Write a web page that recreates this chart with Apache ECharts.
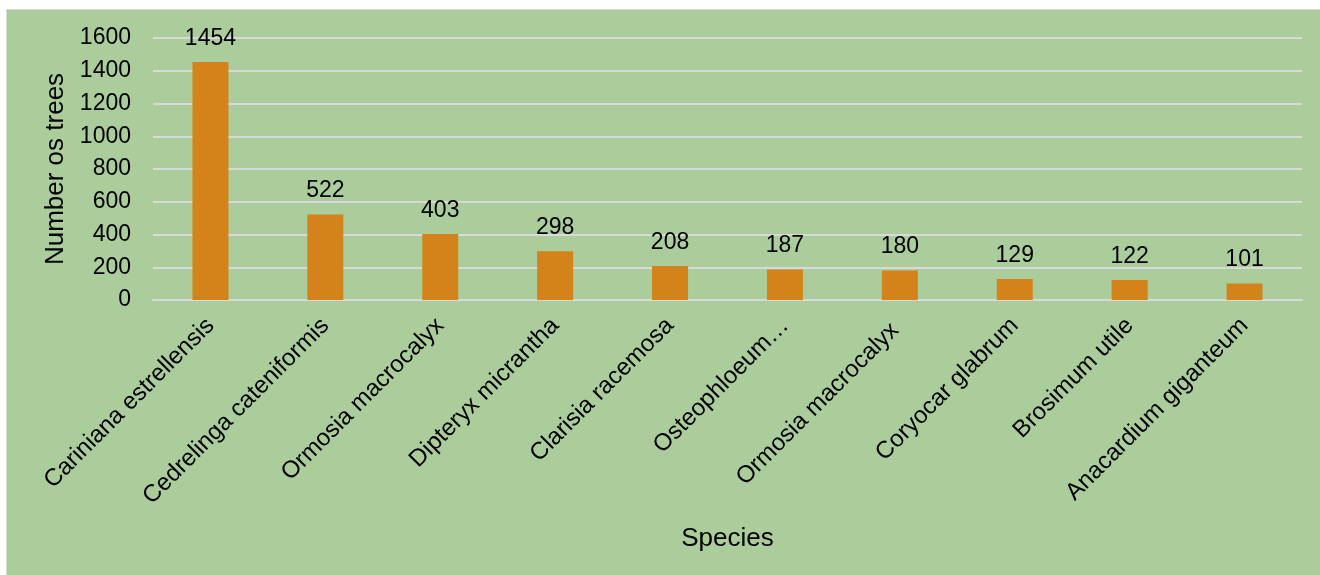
<!DOCTYPE html>
<html><head><meta charset="utf-8">
<script src="https://cdn.jsdelivr.net/npm/echarts@6/dist/echarts.min.js"></script>
<style>html,body{margin:0;padding:0;background:#fff;}#c{width:1320px;height:575px;}</style>
</head><body><div id="c"></div>
<script>
const categories = ["Cariniana estrellensis","Cedrelinga cateniformis","Ormosia macrocalyx","Dipteryx micrantha","Clarisia racemosa","Osteophloeum…","Ormosia macrocalyx ","Coryocar glabrum","Brosimum utile","Anacardium giganteum"];
const values = [1454, 522, 403, 298, 208, 187, 180, 129, 122, 101];
const yTicks = {min: 0, max: 1600, interval: 200};
const yName = "Number os trees";
const xName = "Species";

const font = "'Liberation Sans', Arial, sans-serif";
const chart = echarts.init(document.getElementById('c'), null, {renderer: 'canvas'});
chart.setOption({
  backgroundColor: '#ffffff',
  animation: false,
  graphic: [{
    type: 'rect', z: -10, silent: true,
    shape: {x: 6.5, y: 9.5, width: 1320, height: 570},
    style: {fill: '#aacd9b', stroke: '#d9d9d9', lineWidth: 1}
  }],
  grid: {left: 153, right: 18, top: 38, bottom: 275},
  xAxis: {
    type: 'category', data: categories,
    name: xName, nameLocation: 'middle', nameGap: 226,
    nameTextStyle: {fontFamily: font, fontSize: 26, color: '#000'},
    axisLine: {show: true, lineStyle: {color: '#d9d9d9', width: 2}},
    axisTick: {show: false},
    axisLabel: {rotate: 45, interval: 0, margin: 22, fontFamily: font, fontSize: 24, color: '#000'}
  },
  yAxis: {
    type: 'value', min: yTicks.min, max: yTicks.max, interval: yTicks.interval,
    name: yName, nameLocation: 'middle', nameGap: 82,
    nameTextStyle: {fontFamily: font, fontSize: 26, color: '#000'},
    axisLine: {show: false}, axisTick: {show: false},
    axisLabel: {margin: 22, fontFamily: font, fontSize: 23, color: '#000', formatter: v => String(v)},
    splitLine: {lineStyle: {color: '#d9d9d9', width: 2}}
  },
  series: [{
    type: 'bar', data: values, barWidth: 36,
    itemStyle: {color: '#d38319'},
    label: {show: true, position: 'top', distance: 12, fontFamily: font, fontSize: 23, color: '#000'}
  }]
});
</script></body></html>
